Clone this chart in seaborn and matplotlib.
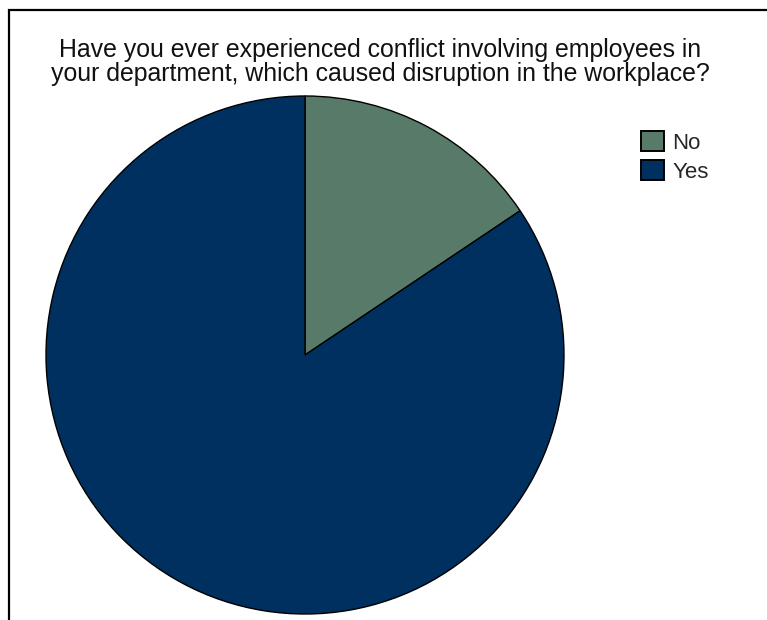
import matplotlib
matplotlib.use("Agg")
import matplotlib.pyplot as plt
import matplotlib.patches as mpatches
import seaborn as sns

labels = ["No", "Yes"]
values = [15.6, 84.4]
colors = ["#587A68", "#00305F"]
title = "Have you ever experienced conflict involving employees in\nyour department, which caused disruption in the workplace?"

sns.set_theme(style="white")
plt.rcParams["font.family"] = ["Liberation Sans", "DejaVu Sans"]

W, H = 767, 620
fig = plt.figure(figsize=(W / 100, H / 100), dpi=100)
fig.patch.set_facecolor("white")

# outer frame (cropped at right/bottom)
frame = mpatches.Rectangle((8.5 / W, -0.1), 1.2, 1 - 9.5 / H + 0.1, transform=fig.transFigure,
                           fill=False, edgecolor="black", linewidth=1.6)
fig.add_artist(frame)

cx, cy, r = 305, 620 - 355, 259
ax = fig.add_axes([(cx - r) / W, (cy - r) / H, 2 * r / W, 2 * r / H])
wedges, _ = ax.pie(values, colors=colors, startangle=90, counterclock=False,
                   wedgeprops=dict(edgecolor="black", linewidth=1.0), radius=1.0)
ax.set_xlim(-1, 1)
ax.set_ylim(-1, 1)
ax.set_aspect("equal")
ax.axis("off")

fig.text(380.5 / W, 1 - 62 / H, title, ha="center", va="center", fontsize=17.9,
         color="#111111", linespacing=0.98)

handles = [mpatches.Patch(facecolor=c, edgecolor="black", linewidth=1.4, label=l)
           for c, l in zip(colors, labels)]
fig.legend(handles=handles, loc="upper left", bbox_to_anchor=(641 / W, 1 - 131 / H),
           frameon=False, fontsize=16, handlelength=1.04, handleheight=1.04,
           handletextpad=0.36, labelspacing=0.27, borderpad=0.0, borderaxespad=0.0)

fig.savefig("out.png", dpi=100, facecolor="white")
